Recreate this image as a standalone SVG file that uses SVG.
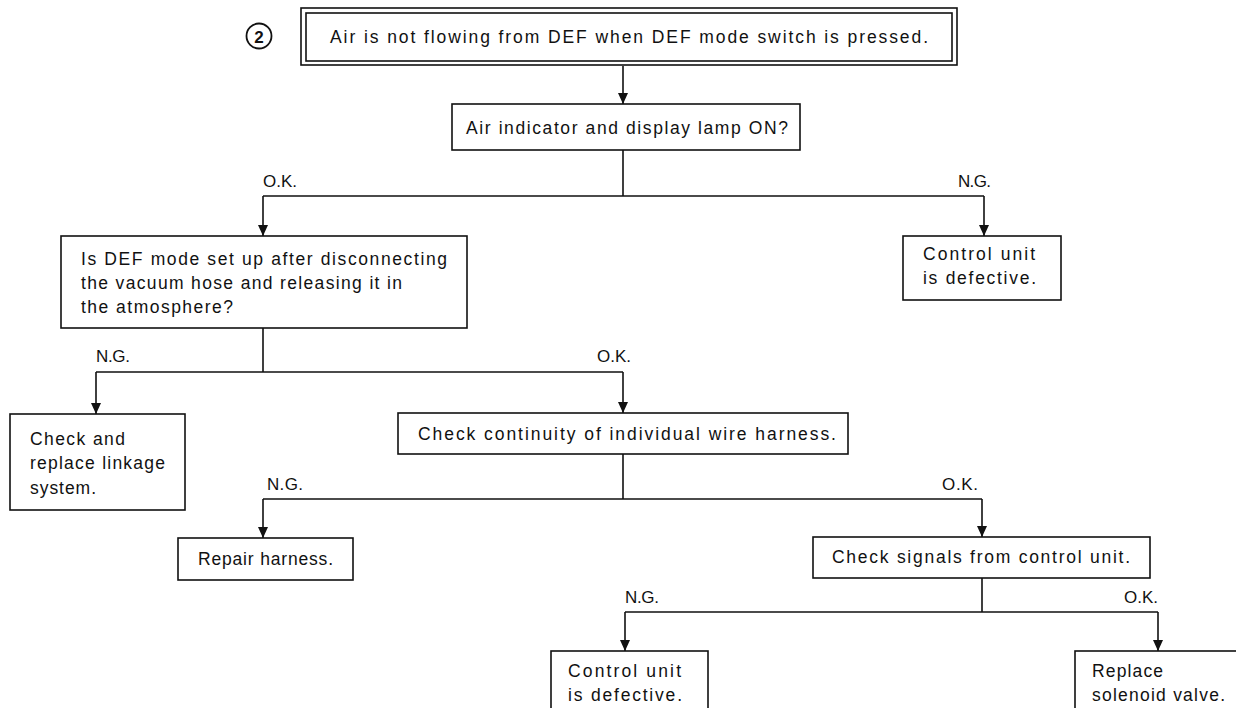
<svg xmlns="http://www.w3.org/2000/svg" width="1236" height="708" viewBox="0 0 1236 708">
<defs>
<marker id="ah" markerWidth="11" markerHeight="10" refX="11" refY="5" orient="auto" markerUnits="userSpaceOnUse" viewBox="0 0 11 10">
<path d="M0,0 L11,5 L0,10 Z" fill="#111"/>
</marker>
<style>
.box{fill:#fff;stroke:#111;stroke-width:1.6}
.ln{fill:none;stroke:#111;stroke-width:1.6}
.ar{fill:none;stroke:#111;stroke-width:1.6;marker-end:url(#ah)}
text{font-family:"Liberation Sans","DejaVu Sans",sans-serif;font-size:17.5px;fill:#111}
.lb{font-size:17px}
</style>
</defs>
<rect width="1236" height="708" fill="#fff"/>
<g id="connectors">
<path class="ar" d="M623,66 V104"/>
<path class="ln" d="M623,150 V196 M263,196 H984"/>
<path class="ar" d="M263,196 V236"/>
<path class="ar" d="M984,196 V236"/>
<path class="ln" d="M263,328 V372 M96,372 H623"/>
<path class="ar" d="M96,372 V414"/>
<path class="ar" d="M623,372 V413"/>
<path class="ln" d="M623,454 V499 M263,499 H982"/>
<path class="ar" d="M263,499 V538"/>
<path class="ar" d="M982,499 V537"/>
<path class="ln" d="M982,578 V612 M625,612 H1158"/>
<path class="ar" d="M625,612 V651"/>
<path class="ar" d="M1158,612 V651"/>
<text class="lb" x="263" y="187" textLength="34">O.K.</text>
<text class="lb" x="958" y="187" textLength="33">N.G.</text>
<text class="lb" x="96" y="362" textLength="34">N.G.</text>
<text class="lb" x="597" y="362" textLength="34">O.K.</text>
<text class="lb" x="267" y="490" textLength="36">N.G.</text>
<text class="lb" x="942" y="490" textLength="36">O.K.</text>
<text class="lb" x="625" y="603" textLength="34">N.G.</text>
<text class="lb" x="1124" y="603" textLength="34">O.K.</text>
</g>
<g id="label-2">
<circle cx="259" cy="36" r="12.5" fill="none" stroke="#111" stroke-width="1.8"/>
<text x="259" y="42.5" text-anchor="middle" style="font-size:17px;font-weight:bold">2</text>
</g>
<g id="n-start">
<rect class="box" x="301" y="8" width="656" height="57"/>
<rect class="box" x="306" y="13" width="646" height="48"/>
<text x="330" y="43" textLength="598">Air is not flowing from DEF when DEF mode switch is pressed.</text>
</g>
<g id="n-lamp">
<rect class="box" x="452" y="104" width="348" height="46"/>
<text x="466" y="134" textLength="322">Air indicator and display lamp ON?</text>
</g>
<g id="n-def">
<rect class="box" x="61" y="236" width="406" height="92"/>
<text x="81" y="265" textLength="366">Is DEF mode set up after disconnecting</text>
<text x="81" y="289" textLength="321">the vacuum hose and releasing it in</text>
<text x="81" y="313" textLength="152">the atmosphere?</text>
</g>
<g id="n-cu1">
<rect class="box" x="903" y="236" width="158" height="64"/>
<text x="923" y="260" textLength="112">Control unit</text>
<text x="923" y="284" textLength="113">is defective.</text>
</g>
<g id="n-linkage">
<rect class="box" x="10" y="414" width="175" height="96"/>
<text x="30" y="445" textLength="95">Check and</text>
<text x="30" y="469" textLength="135">replace linkage</text>
<text x="30" y="494" textLength="66">system.</text>
</g>
<g id="n-continuity">
<rect class="box" x="398" y="413" width="450" height="41"/>
<text x="418" y="440" textLength="418">Check continuity of individual wire harness.</text>
</g>
<g id="n-repair">
<rect class="box" x="178" y="538" width="175" height="42"/>
<text x="198" y="565" textLength="135">Repair harness.</text>
</g>
<g id="n-signals">
<rect class="box" x="813" y="537" width="337" height="41"/>
<text x="832" y="563" textLength="298">Check signals from control unit.</text>
</g>
<g id="n-cu2">
<rect class="box" x="551" y="651" width="157" height="70"/>
<text x="568" y="677" textLength="113">Control unit</text>
<text x="568" y="701" textLength="114">is defective.</text>
</g>
<g id="n-solenoid">
<rect class="box" x="1075" y="651" width="170" height="70"/>
<text x="1092" y="677" textLength="71">Replace</text>
<text x="1092" y="701" textLength="133">solenoid valve.</text>
</g>
</svg>
